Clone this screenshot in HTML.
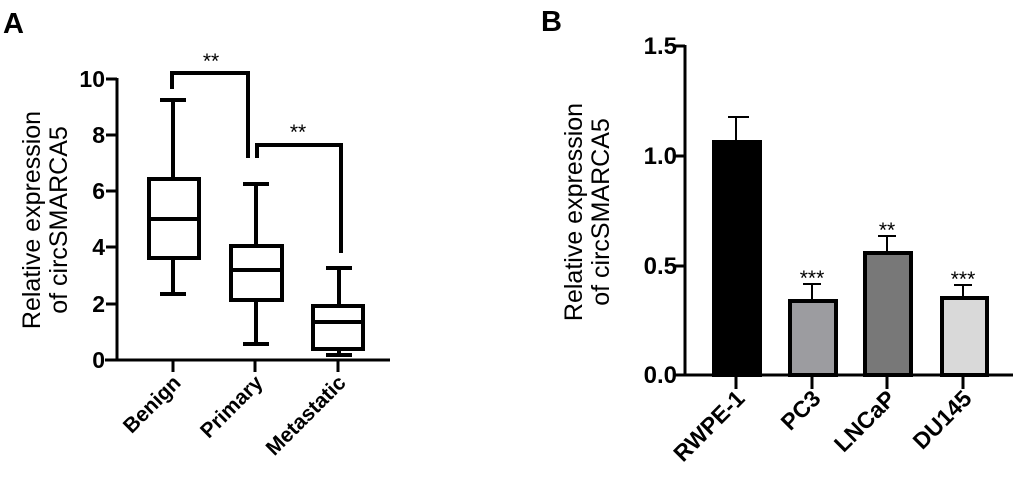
<!DOCTYPE html>
<html><head><style>
body{margin:0;background:#fff}
svg text{font-family:"Liberation Sans",Arial,sans-serif}
</style></head><body>
<svg width="1020" height="485" viewBox="0 0 1020 485" xmlns="http://www.w3.org/2000/svg">
<text x="3" y="33" font-size="29" font-weight="bold">A</text>
<text x="541" y="31" font-size="29" font-weight="bold">B</text>
<!-- Panel A -->
<g stroke="#000" stroke-width="3" fill="none">
<line x1="117" y1="78" x2="117" y2="361"/>
<line x1="105" y1="360" x2="390" y2="360"/>
<line x1="106" y1="79" x2="117" y2="79"/><line x1="106" y1="135" x2="117" y2="135"/><line x1="106" y1="191" x2="117" y2="191"/><line x1="106" y1="247" x2="117" y2="247"/><line x1="106" y1="304" x2="117" y2="304"/>
<line x1="173" y1="360" x2="173" y2="372"/><line x1="255" y1="360" x2="255" y2="372"/><line x1="338" y1="360" x2="338" y2="372"/>
</g>
<g stroke="#000" stroke-width="4" fill="none">
<rect x="149" y="179" width="50" height="79"/><line x1="149" y1="219" x2="199" y2="219"/>
<line x1="173" y1="179" x2="173" y2="100"/><line x1="160" y1="100" x2="186" y2="100"/>
<line x1="173" y1="258" x2="173" y2="294"/><line x1="160" y1="294" x2="186" y2="294"/>
<rect x="231" y="246" width="51" height="54"/><line x1="231" y1="270" x2="282" y2="270"/>
<line x1="256" y1="246" x2="256" y2="184"/><line x1="243" y1="184" x2="269" y2="184"/>
<line x1="256" y1="300" x2="256" y2="344"/><line x1="243" y1="344" x2="269" y2="344"/>
<rect x="313" y="306" width="50" height="43"/><line x1="313" y1="322" x2="363" y2="322"/>
<line x1="339" y1="306" x2="339" y2="268"/><line x1="326" y1="268" x2="352" y2="268"/>
<line x1="339" y1="349" x2="339" y2="355"/><line x1="326" y1="355" x2="352" y2="355"/>
<polyline points="172,89 172,73 248,73 248,158"/>
<polyline points="257,158 257,145 341,145 341,253"/>
</g>
<text x="211" y="68" font-size="21" text-anchor="middle">**</text>
<text x="298" y="139" font-size="21" text-anchor="middle">**</text>
<g font-size="23" font-weight="bold" text-anchor="end">
<text x="105" y="87">10</text><text x="105" y="143">8</text><text x="105" y="199">6</text><text x="105" y="255">4</text><text x="105" y="312">2</text><text x="105" y="368">0</text>
</g>
<g font-size="25" text-anchor="middle">
<text transform="translate(40,220) rotate(-90)">Relative expression</text>
<text transform="translate(67,220) rotate(-90)">of circSMARCA5</text>
</g>
<g font-size="21" font-weight="bold" text-anchor="end">
<text transform="translate(182,384) rotate(-45)">Benign</text>
<text transform="translate(264,384) rotate(-45)">Primary</text>
<text transform="translate(347,384) rotate(-45)">Metastatic</text>
</g>
<!-- Panel B -->
<g stroke="#000" stroke-width="3" fill="none">
<line x1="685" y1="45" x2="685" y2="376"/>
<line x1="673" y1="375" x2="1013" y2="375"/>
<line x1="673" y1="46" x2="685" y2="46"/><line x1="673" y1="156" x2="685" y2="156"/><line x1="673" y1="266" x2="685" y2="266"/>
<line x1="736" y1="375" x2="736" y2="389"/><line x1="812" y1="375" x2="812" y2="389"/><line x1="887" y1="375" x2="887" y2="389"/><line x1="963" y1="375" x2="963" y2="389"/>
</g>
<g stroke="#000" stroke-width="2">
<line x1="736" y1="141" x2="736" y2="117"/><line x1="728" y1="117" x2="749" y2="117"/>
<line x1="812" y1="300" x2="812" y2="284"/><line x1="803" y1="284" x2="821" y2="284"/>
<line x1="887" y1="252" x2="887" y2="236"/><line x1="878" y1="236" x2="896" y2="236"/>
<line x1="963" y1="297" x2="963" y2="285"/><line x1="954" y1="285" x2="972" y2="285"/>
</g>
<g stroke="#000" stroke-width="4">
<rect x="714" y="142" width="46" height="233" fill="#000"/>
<rect x="790" y="301" width="46" height="74" fill="#9c9ca0"/>
<rect x="865" y="253" width="46" height="122" fill="#787878"/>
<rect x="942" y="298" width="45" height="77" fill="#d9d9d9"/>
</g>
<g font-size="21" text-anchor="middle">
<text x="812" y="285">***</text><text x="887" y="237">**</text><text x="963" y="286">***</text>
</g>
<g font-size="24" font-weight="bold" text-anchor="end">
<text x="677" y="54">1.5</text><text x="677" y="164">1.0</text><text x="677" y="274">0.5</text><text x="677" y="383">0.0</text>
</g>
<g font-size="25" text-anchor="middle">
<text transform="translate(582,212) rotate(-90)">Relative expression</text>
<text transform="translate(609,212) rotate(-90)">of circSMARCA5</text>
</g>
<g font-size="23" font-weight="bold" text-anchor="end">
<text transform="translate(746,400) rotate(-45)">RWPE-1</text>
<text transform="translate(822,400) rotate(-45)">PC3</text>
<text transform="translate(897,400) rotate(-45)">LNCaP</text>
<text transform="translate(973,400) rotate(-45)">DU145</text>
</g>
</svg>
</body></html>
